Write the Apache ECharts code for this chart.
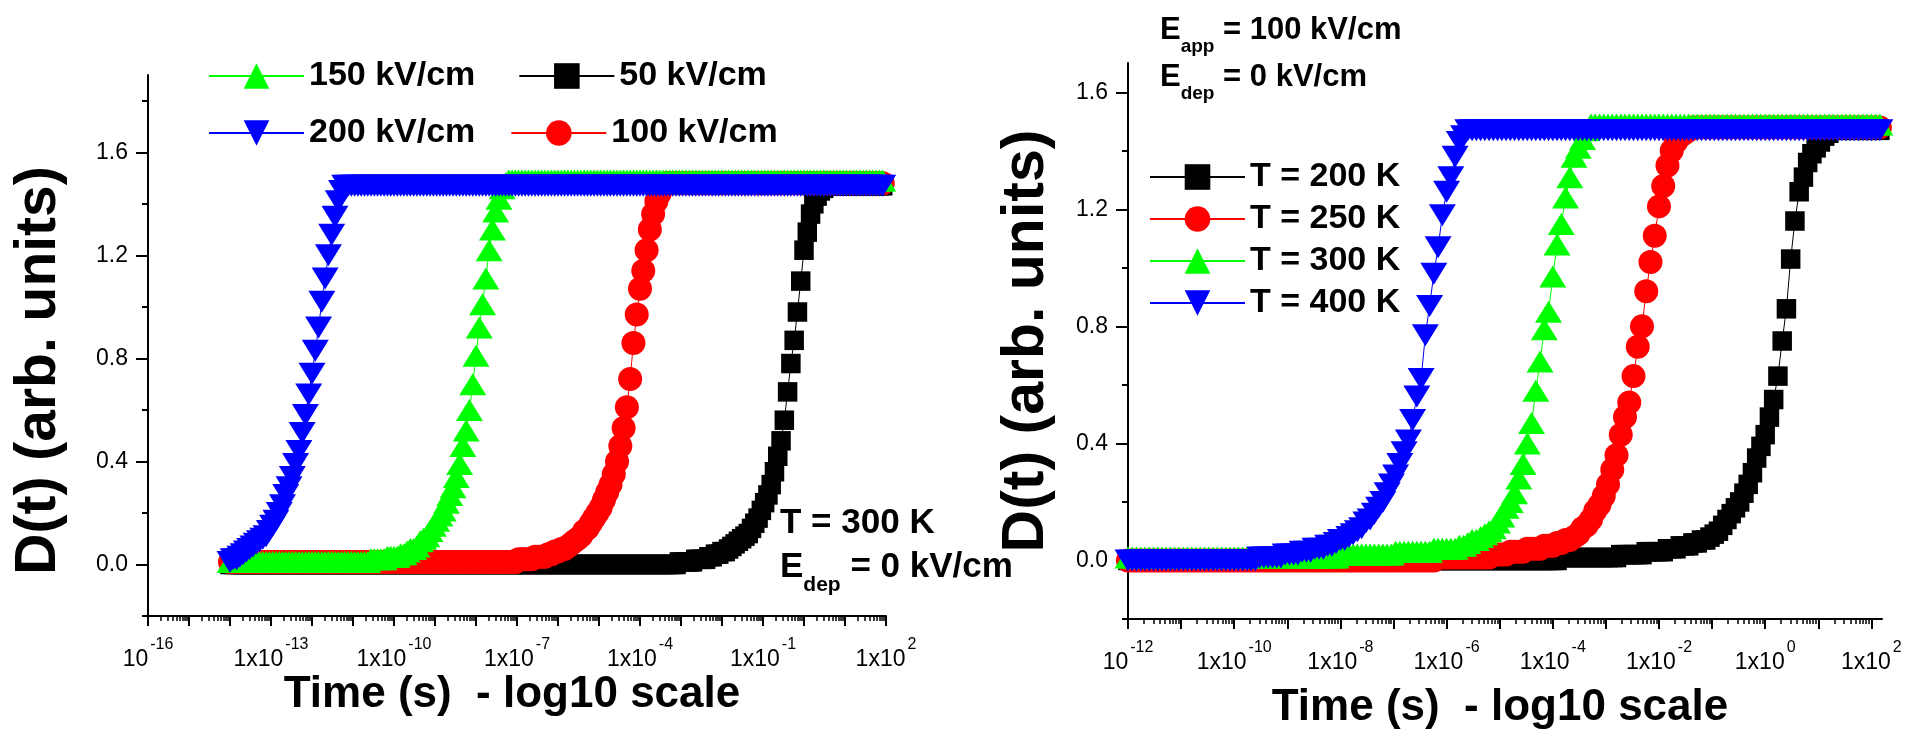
<!DOCTYPE html>
<html>
<head>
<meta charset="utf-8">
<title>D(t) vs time</title>
<script src="https://cdn.jsdelivr.net/npm/echarts@6/dist/echarts.min.js"></script>
<style>
html, body { margin: 0; padding: 0; background: #fff; }
#chart { width: 1925px; height: 730px; }
</style>
</head>
<body>
<div id="chart"></div>
<script>
const FONT = "'Liberation Sans', Arial, sans-serif"

// log10 of time (s), one marker every 0.08 decade
const leftLogT = [
	-14.00, -13.92, -13.84, -13.76, -13.68, -13.60, -13.52, -13.44, -13.36, -13.28,
	-13.20, -13.12, -13.04, -12.96, -12.88, -12.80, -12.72, -12.64, -12.56, -12.48,
	-12.40, -12.32, -12.24, -12.16, -12.08, -12.00, -11.92, -11.84, -11.76, -11.68,
	-11.60, -11.52, -11.44, -11.36, -11.28, -11.20, -11.12, -11.04, -10.96, -10.88,
	-10.80, -10.72, -10.64, -10.56, -10.48, -10.40, -10.32, -10.24, -10.16, -10.08,
	-10.00, -9.92, -9.84, -9.76, -9.68, -9.60, -9.52, -9.44, -9.36, -9.28,
	-9.20, -9.12, -9.04, -8.96, -8.88, -8.80, -8.72, -8.64, -8.56, -8.48,
	-8.40, -8.32, -8.24, -8.16, -8.08, -8.00, -7.92, -7.84, -7.76, -7.68,
	-7.60, -7.52, -7.44, -7.36, -7.28, -7.20, -7.12, -7.04, -6.96, -6.88,
	-6.80, -6.72, -6.64, -6.56, -6.48, -6.40, -6.32, -6.24, -6.16, -6.08,
	-6.00, -5.92, -5.84, -5.76, -5.68, -5.60, -5.52, -5.44, -5.36, -5.28,
	-5.20, -5.12, -5.04, -4.96, -4.88, -4.80, -4.72, -4.64, -4.56, -4.48,
	-4.40, -4.32, -4.24, -4.16, -4.08, -4.00, -3.92, -3.84, -3.76, -3.68,
	-3.60, -3.52, -3.44, -3.36, -3.28, -3.20, -3.12, -3.04, -2.96, -2.88,
	-2.80, -2.72, -2.64, -2.56, -2.48, -2.40, -2.32, -2.24, -2.16, -2.08,
	-2.00, -1.92, -1.84, -1.76, -1.68, -1.60, -1.52, -1.44, -1.36, -1.28,
	-1.20, -1.12, -1.04, -0.96, -0.88, -0.80, -0.72, -0.64, -0.56, -0.48,
	-0.40, -0.32, -0.24, -0.16, -0.08, 0.00, 0.08, 0.16, 0.24, 0.32,
	0.40, 0.48, 0.56, 0.64, 0.72, 0.80, 0.88, 0.96, 1.04, 1.12,
	1.20, 1.28, 1.36, 1.44, 1.52, 1.60, 1.68, 1.76, 1.84, 1.92
]
const rightLogT = [
	-12.00, -11.92, -11.84, -11.76, -11.68, -11.60, -11.52, -11.44, -11.36, -11.28,
	-11.20, -11.12, -11.04, -10.96, -10.88, -10.80, -10.72, -10.64, -10.56, -10.48,
	-10.40, -10.32, -10.24, -10.16, -10.08, -10.00, -9.92, -9.84, -9.76, -9.68,
	-9.60, -9.52, -9.44, -9.36, -9.28, -9.20, -9.12, -9.04, -8.96, -8.88,
	-8.80, -8.72, -8.64, -8.56, -8.48, -8.40, -8.32, -8.24, -8.16, -8.08,
	-8.00, -7.92, -7.84, -7.76, -7.68, -7.60, -7.52, -7.44, -7.36, -7.28,
	-7.20, -7.12, -7.04, -6.96, -6.88, -6.80, -6.72, -6.64, -6.56, -6.48,
	-6.40, -6.32, -6.24, -6.16, -6.08, -6.00, -5.92, -5.84, -5.76, -5.68,
	-5.60, -5.52, -5.44, -5.36, -5.28, -5.20, -5.12, -5.04, -4.96, -4.88,
	-4.80, -4.72, -4.64, -4.56, -4.48, -4.40, -4.32, -4.24, -4.16, -4.08,
	-4.00, -3.92, -3.84, -3.76, -3.68, -3.60, -3.52, -3.44, -3.36, -3.28,
	-3.20, -3.12, -3.04, -2.96, -2.88, -2.80, -2.72, -2.64, -2.56, -2.48,
	-2.40, -2.32, -2.24, -2.16, -2.08, -2.00, -1.92, -1.84, -1.76, -1.68,
	-1.60, -1.52, -1.44, -1.36, -1.28, -1.20, -1.12, -1.04, -0.96, -0.88,
	-0.80, -0.72, -0.64, -0.56, -0.48, -0.40, -0.32, -0.24, -0.16, -0.08,
	0.00, 0.08, 0.16, 0.24, 0.32, 0.40, 0.48, 0.56, 0.64, 0.72,
	0.80, 0.88, 0.96, 1.04, 1.12, 1.20, 1.28, 1.36, 1.44, 1.52,
	1.60, 1.68, 1.76, 1.84, 1.92, 2.00, 2.08, 2.16
]

// left panel (T = 300 K): D(t) for each applied field, on leftLogT
const d50kV = [
	0.00, 0.00, 0.00, 0.00, 0.00, 0.00, 0.00, 0.00, 0.00, 0.00,
	0.00, 0.00, 0.00, 0.00, 0.00, 0.00, 0.00, 0.00, 0.00, 0.00,
	0.00, 0.00, 0.00, 0.00, 0.00, 0.00, 0.00, 0.00, 0.00, 0.00,
	0.00, 0.00, 0.00, 0.00, 0.00, 0.00, 0.00, 0.00, 0.00, 0.00,
	0.00, 0.00, 0.00, 0.00, 0.00, 0.00, 0.00, 0.00, 0.00, 0.00,
	0.00, 0.00, 0.00, 0.00, 0.00, 0.00, 0.00, 0.00, 0.00, 0.00,
	0.00, 0.00, 0.00, 0.00, 0.00, 0.00, 0.00, 0.00, 0.00, 0.00,
	0.00, 0.00, 0.00, 0.00, 0.00, 0.00, 0.00, 0.00, 0.00, 0.00,
	0.00, 0.00, 0.00, 0.00, 0.00, 0.00, 0.00, 0.00, 0.00, 0.00,
	0.00, 0.00, 0.00, 0.00, 0.00, 0.00, 0.00, 0.00, 0.00, 0.00,
	0.00, 0.00, 0.00, 0.00, 0.00, 0.00, 0.00, 0.00, 0.00, 0.00,
	0.00, 0.00, 0.00, 0.00, 0.00, 0.00, 0.00, 0.00, 0.00, 0.00,
	0.00, 0.00, 0.00, 0.00, 0.00, 0.00, 0.00, 0.00, 0.00, 0.00,
	0.00, 0.00, 0.00, 0.00, 0.00, 0.00, 0.00, 0.01, 0.01, 0.01,
	0.01, 0.01, 0.02, 0.02, 0.02, 0.02, 0.03, 0.03, 0.04, 0.04,
	0.05, 0.05, 0.06, 0.07, 0.08, 0.09, 0.10, 0.11, 0.12, 0.14,
	0.16, 0.18, 0.21, 0.24, 0.27, 0.31, 0.36, 0.42, 0.48, 0.56,
	0.67, 0.78, 0.87, 0.98, 1.10, 1.22, 1.29, 1.36, 1.40, 1.43,
	1.45, 1.46, 1.47, 1.47, 1.47, 1.47, 1.47, 1.47, 1.47, 1.47,
	1.47, 1.47, 1.47, 1.47, 1.47, 1.47, 1.47, 1.47, 1.47, 1.47
]
const d100kV = [
	0.01, 0.01, 0.01, 0.01, 0.01, 0.01, 0.01, 0.01, 0.01, 0.01,
	0.01, 0.01, 0.01, 0.01, 0.01, 0.01, 0.01, 0.01, 0.01, 0.01,
	0.01, 0.01, 0.01, 0.01, 0.01, 0.01, 0.01, 0.01, 0.01, 0.01,
	0.01, 0.01, 0.01, 0.01, 0.01, 0.01, 0.01, 0.01, 0.01, 0.01,
	0.01, 0.01, 0.01, 0.01, 0.01, 0.01, 0.01, 0.01, 0.01, 0.01,
	0.01, 0.01, 0.01, 0.01, 0.01, 0.01, 0.01, 0.01, 0.01, 0.01,
	0.01, 0.01, 0.01, 0.01, 0.01, 0.01, 0.01, 0.01, 0.01, 0.01,
	0.01, 0.01, 0.01, 0.01, 0.01, 0.01, 0.01, 0.01, 0.01, 0.01,
	0.01, 0.01, 0.01, 0.01, 0.01, 0.01, 0.01, 0.01, 0.02, 0.02,
	0.02, 0.02, 0.02, 0.03, 0.03, 0.03, 0.03, 0.04, 0.04, 0.05,
	0.05, 0.06, 0.06, 0.07, 0.08, 0.09, 0.10, 0.11, 0.13, 0.14,
	0.16, 0.18, 0.20, 0.22, 0.25, 0.28, 0.31, 0.35, 0.40, 0.46,
	0.53, 0.61, 0.72, 0.86, 0.97, 1.07, 1.14, 1.22, 1.30, 1.36,
	1.41, 1.44, 1.47, 1.48, 1.48, 1.48, 1.48, 1.48, 1.48, 1.48,
	1.48, 1.48, 1.48, 1.48, 1.48, 1.48, 1.48, 1.48, 1.48, 1.48,
	1.48, 1.48, 1.48, 1.48, 1.48, 1.48, 1.48, 1.48, 1.48, 1.48,
	1.48, 1.48, 1.48, 1.48, 1.48, 1.48, 1.48, 1.48, 1.48, 1.48,
	1.48, 1.48, 1.48, 1.48, 1.48, 1.48, 1.48, 1.48, 1.48, 1.48,
	1.48, 1.48, 1.48, 1.48, 1.48, 1.48, 1.48, 1.48, 1.48, 1.48,
	1.48, 1.48, 1.48, 1.48, 1.48, 1.48, 1.48, 1.48, 1.48, 1.48
]
const d150kV = [
	0.01, 0.01, 0.01, 0.01, 0.01, 0.01, 0.01, 0.01, 0.01, 0.01,
	0.01, 0.01, 0.01, 0.01, 0.01, 0.01, 0.01, 0.01, 0.01, 0.01,
	0.01, 0.01, 0.01, 0.01, 0.01, 0.01, 0.01, 0.01, 0.01, 0.01,
	0.01, 0.01, 0.01, 0.01, 0.01, 0.01, 0.01, 0.01, 0.01, 0.01,
	0.01, 0.01, 0.01, 0.02, 0.02, 0.02, 0.02, 0.02, 0.03, 0.03,
	0.03, 0.03, 0.04, 0.04, 0.05, 0.06, 0.06, 0.07, 0.09, 0.10,
	0.11, 0.13, 0.15, 0.17, 0.19, 0.21, 0.24, 0.27, 0.30, 0.34,
	0.39, 0.46, 0.52, 0.60, 0.70, 0.81, 0.92, 1.01, 1.11, 1.22,
	1.30, 1.37, 1.42, 1.46, 1.48, 1.49, 1.49, 1.49, 1.49, 1.49,
	1.49, 1.49, 1.49, 1.49, 1.49, 1.49, 1.49, 1.49, 1.49, 1.49,
	1.49, 1.49, 1.49, 1.49, 1.49, 1.49, 1.49, 1.49, 1.49, 1.49,
	1.49, 1.49, 1.49, 1.49, 1.49, 1.49, 1.49, 1.49, 1.49, 1.49,
	1.49, 1.49, 1.49, 1.49, 1.49, 1.49, 1.49, 1.49, 1.49, 1.49,
	1.49, 1.49, 1.49, 1.49, 1.49, 1.49, 1.49, 1.49, 1.49, 1.49,
	1.49, 1.49, 1.49, 1.49, 1.49, 1.49, 1.49, 1.49, 1.49, 1.49,
	1.49, 1.49, 1.49, 1.49, 1.49, 1.49, 1.49, 1.49, 1.49, 1.49,
	1.49, 1.49, 1.49, 1.49, 1.49, 1.49, 1.49, 1.49, 1.49, 1.49,
	1.49, 1.49, 1.49, 1.49, 1.49, 1.49, 1.49, 1.49, 1.49, 1.49,
	1.49, 1.49, 1.49, 1.49, 1.49, 1.49, 1.49, 1.49, 1.49, 1.49,
	1.49, 1.49, 1.49, 1.49, 1.49, 1.49, 1.49, 1.49, 1.49, 1.49
]
const d200kV = [
	0.01, 0.02, 0.02, 0.03, 0.04, 0.05, 0.06, 0.07, 0.08, 0.09,
	0.10, 0.11, 0.13, 0.15, 0.17, 0.20, 0.23, 0.27, 0.30, 0.34,
	0.39, 0.44, 0.51, 0.58, 0.66, 0.74, 0.83, 0.92, 1.02, 1.11,
	1.20, 1.28, 1.35, 1.41, 1.45, 1.47, 1.47, 1.47, 1.47, 1.47,
	1.47, 1.47, 1.47, 1.47, 1.47, 1.47, 1.47, 1.47, 1.47, 1.47,
	1.47, 1.47, 1.47, 1.47, 1.47, 1.47, 1.47, 1.47, 1.47, 1.47,
	1.47, 1.47, 1.47, 1.47, 1.47, 1.47, 1.47, 1.47, 1.47, 1.47,
	1.47, 1.47, 1.47, 1.47, 1.47, 1.47, 1.47, 1.47, 1.47, 1.47,
	1.47, 1.47, 1.47, 1.47, 1.47, 1.47, 1.47, 1.47, 1.47, 1.47,
	1.47, 1.47, 1.47, 1.47, 1.47, 1.47, 1.47, 1.47, 1.47, 1.47,
	1.47, 1.47, 1.47, 1.47, 1.47, 1.47, 1.47, 1.47, 1.47, 1.47,
	1.47, 1.47, 1.47, 1.47, 1.47, 1.47, 1.47, 1.47, 1.47, 1.47,
	1.47, 1.47, 1.47, 1.47, 1.47, 1.47, 1.47, 1.47, 1.47, 1.47,
	1.47, 1.47, 1.47, 1.47, 1.47, 1.47, 1.47, 1.47, 1.47, 1.47,
	1.47, 1.47, 1.47, 1.47, 1.47, 1.47, 1.47, 1.47, 1.47, 1.47,
	1.47, 1.47, 1.47, 1.47, 1.47, 1.47, 1.47, 1.47, 1.47, 1.47,
	1.47, 1.47, 1.47, 1.47, 1.47, 1.47, 1.47, 1.47, 1.47, 1.47,
	1.47, 1.47, 1.47, 1.47, 1.47, 1.47, 1.47, 1.47, 1.47, 1.47,
	1.47, 1.47, 1.47, 1.47, 1.47, 1.47, 1.47, 1.47, 1.47, 1.47,
	1.47, 1.47, 1.47, 1.47, 1.47, 1.47, 1.47, 1.47, 1.47, 1.47
]

// right panel (E_app = 100 kV/cm): D(t) for each temperature, on rightLogT
const d200K = [
	0.00, 0.00, 0.00, 0.00, 0.00, 0.00, 0.00, 0.00, 0.00, 0.00,
	0.00, 0.00, 0.00, 0.00, 0.00, 0.00, 0.00, 0.00, 0.00, 0.00,
	0.00, 0.00, 0.00, 0.00, 0.00, 0.00, 0.00, 0.00, 0.00, 0.00,
	0.00, 0.00, 0.00, 0.00, 0.00, 0.00, 0.00, 0.00, 0.00, 0.00,
	0.00, 0.00, 0.00, 0.00, 0.00, 0.00, 0.00, 0.00, 0.00, 0.00,
	0.00, 0.00, 0.00, 0.00, 0.00, 0.00, 0.00, 0.00, 0.00, 0.00,
	0.00, 0.00, 0.00, 0.00, 0.00, 0.00, 0.00, 0.00, 0.00, 0.00,
	0.00, 0.00, 0.00, 0.00, 0.00, 0.00, 0.00, 0.00, 0.00, 0.00,
	0.00, 0.00, 0.00, 0.00, 0.00, 0.00, 0.00, 0.00, 0.00, 0.00,
	0.00, 0.00, 0.00, 0.00, 0.00, 0.00, 0.00, 0.00, 0.00, 0.00,
	0.00, 0.00, 0.01, 0.01, 0.01, 0.01, 0.01, 0.01, 0.01, 0.01,
	0.01, 0.01, 0.01, 0.01, 0.01, 0.01, 0.02, 0.02, 0.02, 0.02,
	0.02, 0.02, 0.03, 0.03, 0.03, 0.03, 0.03, 0.04, 0.04, 0.04,
	0.05, 0.05, 0.05, 0.06, 0.06, 0.07, 0.07, 0.08, 0.09, 0.10,
	0.12, 0.14, 0.16, 0.18, 0.20, 0.23, 0.26, 0.30, 0.35, 0.39,
	0.43, 0.49, 0.55, 0.63, 0.75, 0.86, 1.03, 1.16, 1.26, 1.31,
	1.36, 1.39, 1.41, 1.43, 1.45, 1.46, 1.47, 1.47, 1.47, 1.47,
	1.47, 1.47, 1.47, 1.47, 1.47, 1.47, 1.47, 1.47
]
const d250K = [
	0.00, 0.00, 0.00, 0.00, 0.00, 0.00, 0.00, 0.00, 0.00, 0.00,
	0.00, 0.00, 0.00, 0.00, 0.00, 0.00, 0.00, 0.00, 0.00, 0.00,
	0.00, 0.00, 0.00, 0.00, 0.00, 0.00, 0.00, 0.00, 0.00, 0.00,
	0.00, 0.00, 0.00, 0.00, 0.00, 0.00, 0.00, 0.00, 0.00, 0.00,
	0.00, 0.00, 0.00, 0.00, 0.00, 0.00, 0.00, 0.00, 0.00, 0.00,
	0.00, 0.00, 0.00, 0.00, 0.00, 0.00, 0.00, 0.00, 0.00, 0.00,
	0.00, 0.00, 0.00, 0.00, 0.00, 0.00, 0.00, 0.00, 0.00, 0.00,
	0.00, 0.00, 0.00, 0.01, 0.01, 0.01, 0.01, 0.01, 0.01, 0.01,
	0.01, 0.01, 0.01, 0.01, 0.01, 0.01, 0.02, 0.02, 0.02, 0.02,
	0.03, 0.03, 0.03, 0.03, 0.04, 0.04, 0.04, 0.04, 0.05, 0.05,
	0.05, 0.06, 0.06, 0.07, 0.07, 0.08, 0.09, 0.11, 0.12, 0.14,
	0.17, 0.19, 0.22, 0.26, 0.31, 0.36, 0.43, 0.49, 0.54, 0.63,
	0.73, 0.80, 0.92, 1.02, 1.11, 1.21, 1.28, 1.35, 1.40, 1.43,
	1.45, 1.46, 1.47, 1.48, 1.48, 1.48, 1.48, 1.48, 1.48, 1.48,
	1.48, 1.48, 1.48, 1.48, 1.48, 1.48, 1.48, 1.48, 1.48, 1.48,
	1.48, 1.48, 1.48, 1.48, 1.48, 1.48, 1.48, 1.48, 1.48, 1.48,
	1.48, 1.48, 1.48, 1.48, 1.48, 1.48, 1.48, 1.48, 1.48, 1.48,
	1.48, 1.48, 1.48, 1.48, 1.48, 1.48, 1.48, 1.48
]
const d300K = [
	0.01, 0.01, 0.01, 0.01, 0.01, 0.01, 0.01, 0.01, 0.01, 0.01,
	0.01, 0.01, 0.01, 0.01, 0.01, 0.01, 0.01, 0.01, 0.01, 0.01,
	0.01, 0.01, 0.01, 0.01, 0.01, 0.01, 0.01, 0.01, 0.01, 0.01,
	0.01, 0.01, 0.01, 0.01, 0.01, 0.01, 0.01, 0.01, 0.01, 0.01,
	0.01, 0.01, 0.01, 0.01, 0.01, 0.01, 0.01, 0.01, 0.01, 0.01,
	0.02, 0.02, 0.02, 0.02, 0.02, 0.02, 0.02, 0.02, 0.02, 0.02,
	0.02, 0.02, 0.02, 0.03, 0.03, 0.03, 0.03, 0.03, 0.03, 0.03,
	0.03, 0.03, 0.04, 0.04, 0.04, 0.04, 0.04, 0.04, 0.05, 0.05,
	0.06, 0.07, 0.07, 0.08, 0.09, 0.10, 0.11, 0.13, 0.15, 0.18,
	0.20, 0.23, 0.28, 0.33, 0.40, 0.47, 0.58, 0.68, 0.79, 0.85,
	0.97, 1.08, 1.15, 1.24, 1.31, 1.38, 1.41, 1.44, 1.47, 1.49,
	1.49, 1.49, 1.49, 1.49, 1.49, 1.49, 1.49, 1.49, 1.49, 1.49,
	1.49, 1.49, 1.49, 1.49, 1.49, 1.49, 1.49, 1.49, 1.49, 1.49,
	1.49, 1.49, 1.49, 1.49, 1.49, 1.49, 1.49, 1.49, 1.49, 1.49,
	1.49, 1.49, 1.49, 1.49, 1.49, 1.49, 1.49, 1.49, 1.49, 1.49,
	1.49, 1.49, 1.49, 1.49, 1.49, 1.49, 1.49, 1.49, 1.49, 1.49,
	1.49, 1.49, 1.49, 1.49, 1.49, 1.49, 1.49, 1.49, 1.49, 1.49,
	1.49, 1.49, 1.49, 1.49, 1.49, 1.49, 1.49, 1.49
]
const d400K = [
	0.00, 0.00, 0.00, 0.00, 0.00, 0.00, 0.00, 0.00, 0.00, 0.00,
	0.00, 0.00, 0.00, 0.00, 0.00, 0.00, 0.00, 0.00, 0.00, 0.00,
	0.00, 0.00, 0.00, 0.00, 0.00, 0.00, 0.00, 0.00, 0.00, 0.00,
	0.00, 0.01, 0.01, 0.01, 0.01, 0.01, 0.01, 0.02, 0.02, 0.02,
	0.02, 0.03, 0.03, 0.03, 0.04, 0.04, 0.04, 0.05, 0.05, 0.06,
	0.07, 0.07, 0.08, 0.09, 0.10, 0.11, 0.13, 0.14, 0.16, 0.18,
	0.20, 0.23, 0.26, 0.29, 0.33, 0.37, 0.41, 0.48, 0.56, 0.62,
	0.77, 0.87, 0.98, 1.07, 1.18, 1.26, 1.31, 1.38, 1.43, 1.45,
	1.47, 1.47, 1.47, 1.47, 1.47, 1.47, 1.47, 1.47, 1.47, 1.47,
	1.47, 1.47, 1.47, 1.47, 1.47, 1.47, 1.47, 1.47, 1.47, 1.47,
	1.47, 1.47, 1.47, 1.47, 1.47, 1.47, 1.47, 1.47, 1.47, 1.47,
	1.47, 1.47, 1.47, 1.47, 1.47, 1.47, 1.47, 1.47, 1.47, 1.47,
	1.47, 1.47, 1.47, 1.47, 1.47, 1.47, 1.47, 1.47, 1.47, 1.47,
	1.47, 1.47, 1.47, 1.47, 1.47, 1.47, 1.47, 1.47, 1.47, 1.47,
	1.47, 1.47, 1.47, 1.47, 1.47, 1.47, 1.47, 1.47, 1.47, 1.47,
	1.47, 1.47, 1.47, 1.47, 1.47, 1.47, 1.47, 1.47, 1.47, 1.47,
	1.47, 1.47, 1.47, 1.47, 1.47, 1.47, 1.47, 1.47, 1.47, 1.47,
	1.47, 1.47, 1.47, 1.47, 1.47, 1.47, 1.47, 1.47
]

// axis ticks (decade exponents) and labels
const leftDecades = [-16, -15, -14, -13, -12, -11, -10, -9, -8, -7, -6, -5, -4, -3, -2, -1, 0, 1, 2]
const leftLabelled = [-16, -13, -10, -7, -4, -1, 2]
const rightDecades = [-12, -11, -10, -9, -8, -7, -6, -5, -4, -3, -2, -1, 0, 1, 2]
const rightLabelled = [-12, -10, -8, -6, -4, -2, 0, 2]
const yLabelled = [0, 0.4, 0.8, 1.2, 1.6]
const leftYMinor = [-0.2, 0.2, 0.6, 1.0, 1.4, 1.8]
const rightYMinor = [-0.2, 0.2, 0.6, 1.0, 1.4]
const minorMantissa = [2, 3, 4, 5, 6, 7, 8, 9]

function minorTicks(decades) {
	let arr = []
	for (let i = 0; i < decades.length - 1; i++) {
		minorMantissa.forEach((m) => arr.push(decades[i] + Math.log10(m)))
	}
	return arr
}

function expLabel(first) {
	return function (v) {
		let n = Math.round(v)
		return (n === first ? '{b|10}' : '{b|1x10}') + '{s|' + n + '}'
	}
}

const axisLineStyle = { color: '#000', width: 2 }
const xRich = {
	b: { fontFamily: FONT, fontSize: 23, lineHeight: 34, verticalAlign: 'bottom', color: '#000' },
	s: { fontFamily: FONT, fontSize: 16, lineHeight: 16, verticalAlign: 'top', color: '#000', padding: [0, 0, 0, 2] }
}

function majorX(grid, min, max, decades, labelled, first, nameGap) {
	return {
		type: 'value', gridIndex: grid, position: 'bottom', min: min, max: max,
		axisLine: { show: true, onZero: false, lineStyle: axisLineStyle },
		axisTick: { show: true, customValues: decades, length: 10, lineStyle: { color: '#000', width: 2 } },
		axisLabel: { customValues: labelled, margin: 21, formatter: expLabel(first), rich: xRich },
		splitLine: { show: false },
		name: 'Time (s)  - log10 scale', nameLocation: 'middle', nameGap: nameGap, nameMoveOverlap: false,
		nameTextStyle: { fontFamily: FONT, fontWeight: 'bold', fontSize: 44, lineHeight: 44, color: '#000', padding: [0, 10, 0, 0] }
	}
}
function minorX(grid, min, max, decades) {
	return {
		type: 'value', gridIndex: grid, position: 'bottom', min: min, max: max,
		axisLine: { show: false, onZero: false },
		axisTick: { show: true, customValues: minorTicks(decades), length: 5, lineStyle: { color: '#000', width: 1.5 } },
		axisLabel: { show: false },
		splitLine: { show: false }
	}
}
function majorY(grid, max, nameGap, nameSize, namePad) {
	return {
		type: 'value', gridIndex: grid, position: 'left', min: -0.2, max: max,
		axisLine: { show: true, onZero: false, lineStyle: axisLineStyle },
		axisTick: { show: true, customValues: yLabelled, length: 12, lineStyle: { color: '#000', width: 2 } },
		axisLabel: { customValues: yLabelled, margin: 20, fontFamily: FONT, fontSize: 23, color: '#000', formatter: (v) => v.toFixed(1) },
		splitLine: { show: false },
		name: 'D(t) (arb. units)', nameLocation: 'middle', nameGap: nameGap,
		nameTextStyle: { fontFamily: FONT, fontWeight: 'bold', fontSize: nameSize, color: '#000', padding: namePad }
	}
}
function minorY(grid, max, ticks) {
	return {
		type: 'value', gridIndex: grid, position: 'left', min: -0.2, max: max,
		axisLine: { show: false, onZero: false },
		axisTick: { show: true, customValues: ticks, length: 6, lineStyle: { color: '#000', width: 2 } },
		axisLabel: { show: false },
		splitLine: { show: false }
	}
}

function makeSeries(name, axis, logT, vals, color, symbol, size, rotate) {
	return {
		name: name, type: 'line', xAxisIndex: axis, yAxisIndex: axis,
		data: logT.map((t, i) => [t, vals[i]]),
		symbol: symbol, symbolSize: size, symbolRotate: rotate, showSymbol: true,
		clip: false,
		itemStyle: { color: color, borderWidth: 0, opacity: 1 },
		lineStyle: { color: color, width: 1 },
		emphasis: { disabled: true }
	}
}

const legendCommon = {
	padding: 0, itemWidth: 95, itemHeight: 32, selectedMode: false,
	textStyle: { fontFamily: FONT, fontWeight: 'bold', fontSize: 34, lineHeight: 36, color: '#000' }
}

const richL = {
	m: { fontFamily: FONT, fontWeight: 'bold', fontSize: 35, lineHeight: 40, verticalAlign: 'top', fill: '#000' },
	sub: { fontFamily: FONT, fontWeight: 'bold', fontSize: 21, lineHeight: 21, verticalAlign: 'top', fill: '#000', padding: [25, 0, 0, 0] }
}
const richR = {
	m: { fontFamily: FONT, fontWeight: 'bold', fontSize: 31, lineHeight: 36, verticalAlign: 'top', fill: '#000' },
	sub: { fontFamily: FONT, fontWeight: 'bold', fontSize: 19, lineHeight: 19, verticalAlign: 'top', fill: '#000', padding: [22, 0, 0, 0] }
}

const triSize = [27, 22]
const chart = echarts.init(document.getElementById('chart'), null, { renderer: 'canvas' })
chart.setOption({
	animation: false,
	backgroundColor: '#fff',
	textStyle: { fontFamily: FONT },
	grid: [
		{ left: 148, top: 75, width: 738, height: 541, outerBoundsMode: 'none', containLabel: false },
		{ left: 1128, top: 63, width: 754, height: 556, outerBoundsMode: 'none', containLabel: false }
	],
	xAxis: [
		majorX(0, -16, 2, leftDecades, leftLabelled, -16, 57),
		minorX(0, -16, 2, leftDecades),
		majorX(1, -12, 2.2, rightDecades, rightLabelled, -12, 67),
		minorX(1, -12, 2.2, rightDecades)
	],
	yAxis: [
		majorY(0, 1.9, 80, 57, [0, 50, 0, 0]),
		minorY(0, 1.9, leftYMinor),
		majorY(1, 1.7, 72, 59, [0, 0, 0, 0]),
		minorY(1, 1.7, rightYMinor)
	],
	legend: [
		Object.assign({ data: ['150 kV/cm', '50 kV/cm'], left: 208, top: 58, itemGap: 43 }, legendCommon),
		Object.assign({ data: ['200 kV/cm', '100 kV/cm'], left: 208, top: 115, itemGap: 35 }, legendCommon),
		Object.assign({ data: ['T = 200 K', 'T = 250 K', 'T = 300 K', 'T = 400 K'], orient: 'vertical', left: 1149, top: 159, itemGap: 6 }, legendCommon)
	],
	graphic: [
		{ type: 'text', left: 780, top: 506, style: { text: '{m|T = 300 K}', rich: richL } },
		{ type: 'text', left: 780, top: 550, style: { text: '{m|E}{sub|dep}{m| = 0 kV/cm}', rich: richL } },
		{ type: 'text', left: 1160, top: 15, style: { text: '{m|E}{sub|app}{m| = 100 kV/cm}', rich: richR } },
		{ type: 'text', left: 1160, top: 62, style: { text: '{m|E}{sub|dep}{m| = 0 kV/cm}', rich: richR } }
	],
	series: [
		makeSeries('50 kV/cm', 0, leftLogT, d50kV, '#000000', 'rect', 19.5, 0),
		makeSeries('100 kV/cm', 0, leftLogT, d100kV, '#ff0000', 'circle', 24, 0),
		makeSeries('150 kV/cm', 0, leftLogT, d150kV, '#00ff00', 'triangle', triSize, 0),
		makeSeries('200 kV/cm', 0, leftLogT, d200kV, '#0000ff', 'triangle', triSize, 180),
		makeSeries('T = 200 K', 2, rightLogT, d200K, '#000000', 'rect', 19.5, 0),
		makeSeries('T = 250 K', 2, rightLogT, d250K, '#ff0000', 'circle', 24, 0),
		makeSeries('T = 300 K', 2, rightLogT, d300K, '#00ff00', 'triangle', triSize, 0),
		makeSeries('T = 400 K', 2, rightLogT, d400K, '#0000ff', 'triangle', triSize, 180)
	]
})
</script>
</body>
</html>
